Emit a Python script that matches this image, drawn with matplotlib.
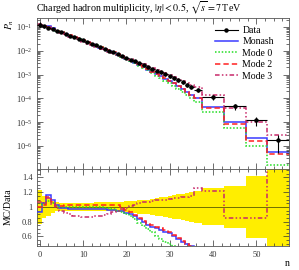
import numpy as np
import matplotlib
matplotlib.use("Agg")
import matplotlib.pyplot as plt
from matplotlib.ticker import LogLocator, MultipleLocator, NullFormatter

plt.rcParams["font.family"] = "serif"
plt.rcParams["font.serif"] = ["Liberation Serif", "DejaVu Serif"]
plt.rcParams["mathtext.fontset"] = "stix"

# binning: unit bins up to 35.5, then wider bins
bin_edges = np.array([-0.5, 0.5, 1.5, 2.5, 3.5, 4.5, 5.5, 6.5, 7.5, 8.5, 9.5,
                      10.5, 11.5, 12.5, 13.5, 14.5, 15.5, 16.5, 17.5, 18.5, 19.5,
                      20.5, 21.5, 22.5, 23.5, 24.5, 25.5, 26.5, 27.5, 28.5, 29.5,
                      30.5, 31.5, 32.5, 33.5, 34.5, 35.5, 37.5, 42.5, 47.5, 52.5, 57.5])

# data P_n
data_p = [1.26e-1, 1.07e-1, 9.12e-2, 7.94e-2, 6.92e-2, 6.03e-2, 5.13e-2, 4.37e-2,
          3.80e-2, 3.24e-2, 2.75e-2, 2.34e-2, 2.00e-2, 1.70e-2, 1.41e-2, 1.20e-2,
          1.02e-2, 8.51e-3, 7.24e-3, 6.03e-3, 5.13e-3, 4.27e-3, 3.63e-3, 3.02e-3,
          2.57e-3, 2.14e-3, 1.78e-3, 1.48e-3, 1.23e-3, 1.02e-3, 8.51e-4, 7.08e-4,
          5.75e-4, 4.68e-4, 3.80e-4, 3.09e-4, 2.34e-4, 1.12e-4, 4.57e-5, 1.20e-5,
          1.74e-6]
# relative data uncertainty
data_rel_err = [0.23, 0.15, 0.12, 0.08, 0.06, 0.05, 0.05, 0.05, 0.05, 0.05, 0.05,
                0.05, 0.05, 0.06, 0.06, 0.06, 0.06, 0.06, 0.065, 0.07, 0.075,
                0.08, 0.085, 0.09, 0.095, 0.10, 0.11, 0.12, 0.13, 0.14, 0.15,
                0.16, 0.17, 0.18, 0.19, 0.20, 0.22, 0.25, 0.28, 0.42, 0.70]

# MC / Data ratios
ratio_monash = [0.93, 1.05, 1.16, 1.10, 1.02, 0.99, 0.98, 0.97, 0.97, 0.97, 0.97,
                0.97, 0.97, 0.97, 0.97, 0.97, 0.96, 0.96, 0.95, 0.94, 0.92,
                0.90, 0.87, 0.83, 0.79, 0.75, 0.73, 0.71, 0.69, 0.66, 0.64,
                0.61, 0.57, 0.53, 0.50, 0.47, 0.46, 0.37, 0.23, 0.18, 0.32]
ratio_mode0 = [1.00, 1.04, 1.08, 1.05, 1.01, 1.00, 1.00, 1.00, 1.00, 1.00, 1.00,
               1.00, 1.00, 1.00, 1.00, 0.99, 0.99, 0.97, 0.95, 0.93, 0.90,
               0.87, 0.83, 0.78, 0.74, 0.70, 0.66, 0.61, 0.57, 0.53, 0.50,
               0.47, 0.44, 0.41, 0.38, 0.35, 0.31, 0.25, 0.12, 0.08, 0.095]
ratio_mode2 = [1.00, 1.02, 1.13, 1.06, 1.01, 1.01, 1.03, 1.03, 1.03, 1.03, 1.03,
               1.03, 1.03, 1.03, 1.03, 1.03, 1.03, 1.03, 1.02, 1.00, 0.96,
               0.93, 0.89, 0.85, 0.81, 0.77, 0.75, 0.73, 0.71, 0.68, 0.66,
               0.62, 0.58, 0.54, 0.50, 0.47, 0.45, 0.35, 0.18, 0.135, 0.26]
ratio_mode3 = [1.06, 1.05, 1.12, 1.04, 0.98, 0.95, 0.92, 0.90, 0.88, 0.87, 0.86,
               0.86, 0.86, 0.87, 0.88, 0.89, 0.91, 0.93, 0.95, 0.97, 0.99,
               1.01, 1.03, 1.05, 1.06, 1.07, 1.08, 1.09, 1.10, 1.10, 1.11,
               1.12, 1.12, 1.13, 1.14, 1.15, 1.26, 1.21, 0.85, 0.85, 1.68]

y_ticks = [1e-6, 1e-5, 1e-4, 1e-3, 1e-2, 1e-1]
ratio_ticks = [0.6, 0.8, 1.0, 1.2, 1.4]
ratio_labels = ["0.6", "0.8", "1", "1.2", "1.4"]

mc_styles = [
    ("Monash", ratio_monash, "#3a3aff", "-"),
    ("Mode 0", ratio_mode0, "#22dd22", (0, (1, 1.2))),
    ("Mode 2", ratio_mode2, "#ff2020", (0, (3.5, 2))),
    ("Mode 3", ratio_mode3, "#c8286a", (0, (3, 1.5, 1, 1.5, 1, 1.5))),
]

centers = 0.5 * (bin_edges[1:] + bin_edges[:-1])
half_w = 0.5 * (bin_edges[1:] - bin_edges[:-1])
data_p = np.array(data_p)
data_rel_err = np.array(data_rel_err)

fig = plt.figure(figsize=(2.99, 2.70), dpi=100)
ax = fig.add_axes((0.1254, 0.373, 0.841, 0.559))
rax = fig.add_axes((0.1254, 0.089, 0.841, 0.284), sharex=ax)

# main panel
ax.errorbar(centers, data_p, xerr=half_w, yerr=data_rel_err * data_p, fmt="o",
            ms=2.2, color="black", lw=0.8, capsize=0, zorder=5)
handles = [ax.plot([], [], color="black", marker="o", ms=2.2, lw=0.8)[0]]
labels = ["Data"]
for name, ratio, col, ls in mc_styles:
    mc = data_p * np.array(ratio)
    ax.stairs(mc, bin_edges, color=col, ls=ls, lw=1.1, baseline=None)
    handles.append(ax.plot([], [], color=col, ls=ls, lw=1.1)[0])
    labels.append(name)

ax.set_yscale("log")
ax.set_xlim(-0.5, 57.5)
ax.set_ylim(1.05e-7, 0.23)
ax.set_yticks(y_ticks)
ax.yaxis.set_minor_locator(LogLocator(base=10, subs=np.arange(2, 10), numticks=100))
ax.yaxis.set_minor_formatter(NullFormatter())
ax.tick_params(labelbottom=False)

ax.legend(handles, labels, loc="upper right", frameon=False, fontsize=7,
          handlelength=2.4, handletextpad=0.45, labelspacing=0.25,
          bbox_to_anchor=(0.955, 0.975), borderaxespad=0)

# ratio panel
widths = bin_edges[1:] - bin_edges[:-1]
rax.bar(bin_edges[:-1], 2 * data_rel_err, bottom=1 - data_rel_err, width=widths,
        align="edge", color="#ffee00", lw=0, zorder=1)
rax.axhline(1.0, color="#707000", lw=0.7, zorder=2)
for name, ratio, col, ls in mc_styles:
    rax.stairs(ratio, bin_edges, color=col, ls=ls, lw=1.1, baseline=None, zorder=3)
rax.set_ylim(0.47, 1.51)
rax.set_yticks(ratio_ticks)
rax.set_yticklabels(ratio_labels)
rax.yaxis.set_minor_locator(MultipleLocator(0.05))
rax.xaxis.set_major_locator(MultipleLocator(10))
rax.xaxis.set_minor_locator(MultipleLocator(2))

for a in (ax, rax):
    a.tick_params(which="both", direction="in", top=True, right=True,
                  labelsize=6, colors="#333333", width=0.5)
    a.tick_params(which="major", length=4)
    a.tick_params(which="minor", length=2)
    for s in a.spines.values():
        s.set_linewidth(0.6)
        s.set_color("#555555")

fig.text(0.122, 1 - 8 / 270, r"Charged hadron multiplicity, $|\eta| < 0.5$, $\sqrt{s} = 7\,$TeV",
         fontsize=7.2, ha="left", va="center")
fig.text(10 / 299, 1 - 24 / 270, r"$P_n$", fontsize=7, rotation=90, ha="center", va="center")
fig.text(8 / 299, 1 - 207 / 270, "MC/Data", fontsize=7, rotation=90, ha="center", va="center")
fig.text(287 / 299, 1 - 263 / 270, "n", fontsize=7, ha="center", va="center")

fig.savefig("out.png", dpi=100)
